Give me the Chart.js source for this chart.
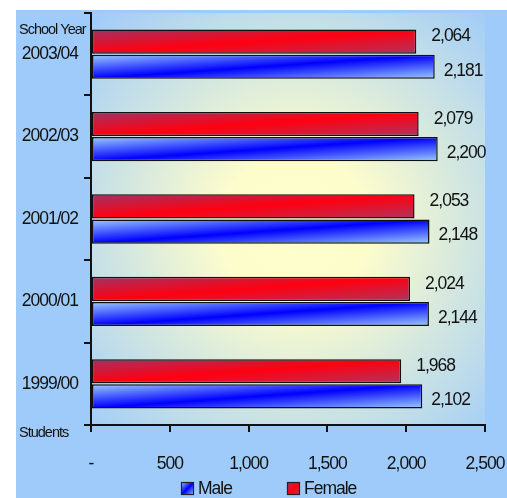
<!DOCTYPE html>
<html>
<head>
<meta charset="utf-8">
<script src="https://cdn.jsdelivr.net/npm/chart.js@4"></script>
<style>
  html, body { margin: 0; padding: 0; background: #fff; }
  #wrap { width: 507px; height: 498px; }
</style>
</head>
<body>
<div id="wrap"><canvas id="StudentChart" width="507" height="498"></canvas></div>
<script>
// school years, top to bottom
const years = ['2003/04', '2002/03', '2001/02', '2000/01', '1999/00'];
const female = [2064, 2079, 2053, 2024, 1968];
const male = [2181, 2200, 2148, 2144, 2102];
const xTicks = [0, 500, 1000, 1500, 2000, 2500];

const FONT = "'Liberation Sans', Arial, sans-serif";
const FS = 17.5;
const CAT_PCT = 0.61;
const BAR_PCT = 0.96;

const redStops = ['#a03366', '#ff0010', '#b0335e'];
const blueStops = ['#9cccff', '#0000ff', '#9cccff'];

// diagonal "reflected" gradient for each bar, worked out from the scales
function barFill(ctx, stops) {
  if (ctx.type !== 'data') return stops[1];
  const chart = ctx.chart;
  const xs = chart.scales.x, ys = chart.scales.y, area = chart.chartArea;
  if (!xs || !ys || !area) return stops[1];
  const left = xs.getPixelForValue(0);
  const right = xs.getPixelForValue(ctx.raw);
  const band = (area.bottom - area.top) / years.length;
  const slot = band * CAT_PCT / 2;
  const hh = slot * BAR_PCT;
  const c = ys.getPixelForValue(ctx.dataIndex);
  const cy = ctx.datasetIndex === 0 ? c - slot / 2 : c + slot / 2;
  return diagGradient(chart.ctx, left, cy - hh / 2, right - left, hh, stops);
}

function diagGradient(c, x, y, w, h, stops) {
  const cx = x + w / 2, cy = y + h / 2;
  const k = w * h / (w * w + h * h);
  const dx = k * h, dy = k * w;
  const g = c.createLinearGradient(cx - dx, cy - dy, cx + dx, cy + dy);
  g.addColorStop(0, stops[0]);
  g.addColorStop(0.5, stops[1]);
  g.addColorStop(1, stops[2]);
  return g;
}

// narrow look: tighten all text a little
const narrowText = {
  id: 'narrowText',
  beforeUpdate(chart) { chart.ctx.letterSpacing = '-1px'; },
  beforeDraw(chart) { chart.ctx.letterSpacing = '-1px'; }
};

const background = {
  id: 'background',
  beforeDraw(chart) {
    const c = chart.ctx, a = chart.chartArea;
    c.save();
    c.fillStyle = '#ffffff';
    c.fillRect(0, 0, chart.width, chart.height);
    c.fillStyle = '#9ecbf9';
    c.fillRect(16, 10, chart.width - 16, chart.height - 10);
    const g = c.createRadialGradient(295, 228, 0, 295, 228, 295);
    g.addColorStop(0, '#ffffcc');
    g.addColorStop(0.25, '#fdfdcc');
    g.addColorStop(1, '#9ecbf9');
    c.fillStyle = g;
    c.fillRect(a.left, a.top, a.right - a.left, a.bottom - a.top);
    c.restore();
  }
};

const labels = {
  id: 'labels',
  afterDatasetsDraw(chart) {
    const c = chart.ctx;
    c.save();
    c.font = FS + 'px ' + FONT;
    c.fillStyle = '#111';
    c.textBaseline = 'middle';
    c.textAlign = 'left';
    chart.data.datasets.forEach((ds, di) => {
      const meta = chart.getDatasetMeta(di);
      meta.data.forEach((bar, i) => {
        const off = di === 0 ? 15 : 9;
        const dy = di === 0 ? -5 : 4;
        c.fillText(ds.data[i].toLocaleString('en-US'), bar.x + off, bar.y + dy);
      });
    });
    c.font = '14.5px ' + FONT;
    c.fillText('School Year', 19, 30);
    c.fillText('Students', 19, 433);
    c.restore();
  },
  afterDraw(chart) {
    // legend row: Male, Female
    const c = chart.ctx;
    const items = [
      { text: 'Male', x: 181, stops: blueStops },
      { text: 'Female', x: 287, stops: redStops }
    ];
    c.save();
    c.font = FS + 'px ' + FONT;
    c.textBaseline = 'middle';
    c.textAlign = 'left';
    items.forEach(it => {
      c.fillStyle = diagGradient(c, it.x, 482, 13, 13, it.stops);
      c.fillRect(it.x, 482, 13, 13);
      c.strokeStyle = '#222';
      c.lineWidth = 1.2;
      c.strokeRect(it.x + 0.5, 482.5, 12, 12);
      c.fillStyle = '#111';
      c.fillText(it.text, it.x + 17, 489);
    });
    c.restore();
  }
};

new Chart(document.getElementById('StudentChart'), {
  type: 'bar',
  data: {
    labels: years,
    datasets: [
      {
        label: 'Female',
        data: female,
        backgroundColor: (ctx) => barFill(ctx, redStops),
        borderColor: '#111',
        borderWidth: 1.5,
        borderSkipped: false,
        categoryPercentage: CAT_PCT,
        barPercentage: BAR_PCT
      },
      {
        label: 'Male',
        data: male,
        backgroundColor: (ctx) => barFill(ctx, blueStops),
        borderColor: '#111',
        borderWidth: 1.5,
        borderSkipped: false,
        categoryPercentage: CAT_PCT,
        barPercentage: BAR_PCT
      }
    ]
  },
  options: {
    indexAxis: 'y',
    responsive: false,
    animation: false,
    layout: { padding: { left: 16, top: 13, right: 22, bottom: 22 } },
    scales: {
      x: {
        min: 0,
        max: 2500,
        afterBuildTicks(scale) { scale.ticks = xTicks.map(v => ({ value: v })); },
        afterFit(scale) {
          scale.height = 51;
          scale.paddingLeft = 0;
          scale.paddingRight = 0;
        },
        grid: { drawOnChartArea: false, drawTicks: true, tickLength: 7, color: '#111', lineWidth: 2 },
        border: { display: true, color: '#111', width: 2 },
        ticks: {
          padding: 22,
          color: '#111',
          font: { family: FONT, size: FS },
          callback: (v) => v === 0 ? '-' : v.toLocaleString('en-US')
        }
      },
      y: {
        afterFit(scale) {
          scale.width = 75;
          scale.paddingTop = 0;
          scale.paddingBottom = 0;
        },
        grid: { drawOnChartArea: false, drawTicks: true, tickLength: 7, color: '#111', lineWidth: 2, offset: true },
        border: { display: true, color: '#111', width: 2 },
        ticks: { padding: 6, color: '#111', font: { family: FONT, size: FS } }
      }
    },
    plugins: {
      tooltip: { enabled: false },
      legend: { display: false }
    }
  },
  plugins: [narrowText, background, labels]
});
</script>
</body>
</html>
